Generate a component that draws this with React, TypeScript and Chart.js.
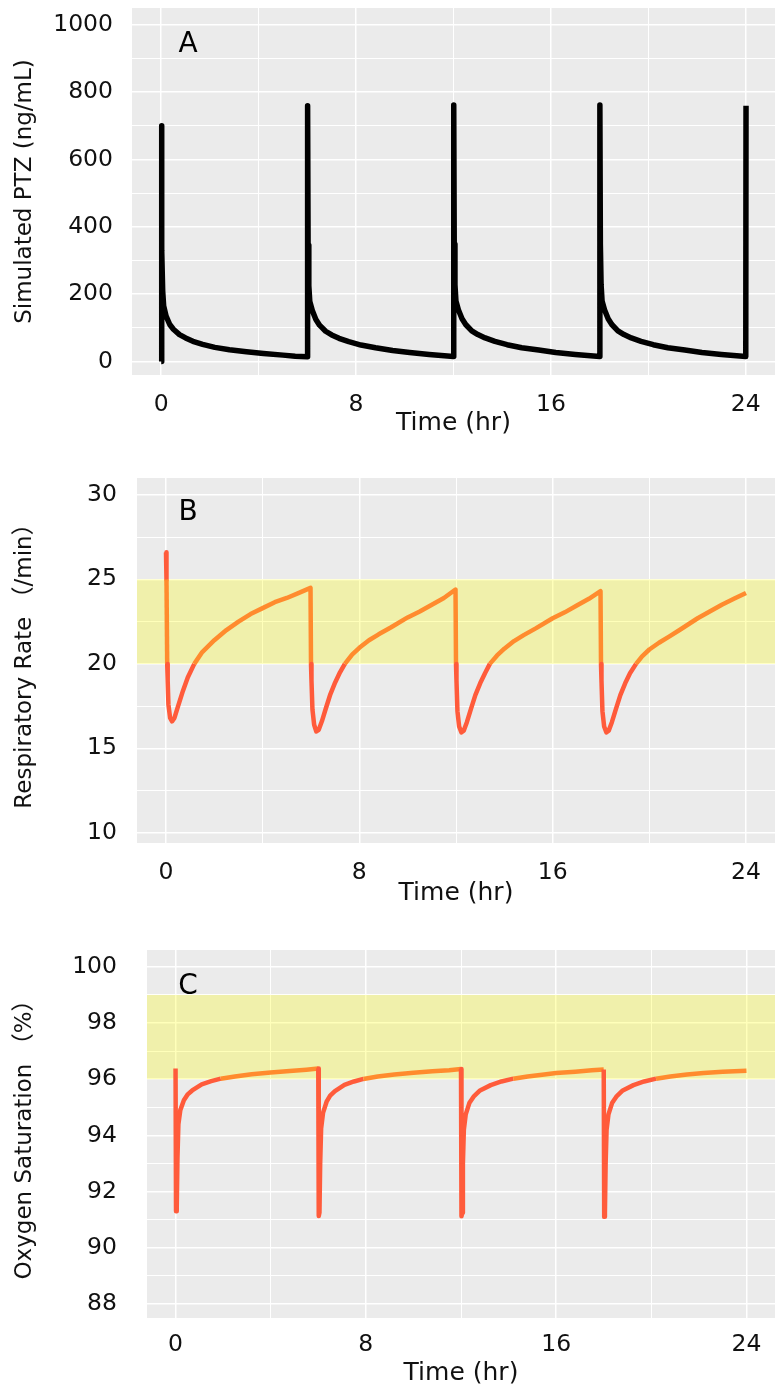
import React, { useEffect, useRef } from 'react';
import { Chart, registerables } from 'chart.js';

Chart.register(...registerables);

// ---------- Data ----------
// Panel A: simulated PTZ concentration (ng/mL)
const TIME_A = [
  0, 0.01, 0.03, 0.06, 0.1, 0.2, 0.35, 0.5, 0.75, 1.0, 1.3, 1.7, 2.2, 2.8, 3.5, 4.2, 5.0, 5.5, 6.0,
  6.01, 6.03, 6.06, 6.1, 6.2, 6.35, 6.5, 6.75, 7.0, 7.3, 7.7, 8.2, 8.8, 9.5, 10.2, 11.0, 11.5, 12.0,
  12.01, 12.03, 12.06, 12.1, 12.2, 12.35, 12.5, 12.75, 13.0, 13.3, 13.7, 14.2, 14.8, 15.5, 16.2, 17.0, 17.5, 18.0,
  18.01, 18.03, 18.06, 18.1, 18.2, 18.35, 18.5, 18.75, 19.0, 19.3, 19.7, 20.2, 20.8, 21.5, 22.2, 23.0, 23.5, 24.0,
  24.01,
];
const PTZ = [
  0, 700, 330, 210, 165, 135, 110, 96, 80, 70, 60, 51, 42, 35, 29, 24, 19, 16, 14,
  760, 345, 225, 178, 152, 125, 108, 90, 79, 69, 59, 49, 41, 33, 27, 21, 18, 15,
  762, 348, 228, 180, 154, 127, 110, 91, 80, 70, 60, 50, 41, 34, 27, 21, 18, 15,
  762, 348, 228, 180, 154, 127, 110, 91, 80, 70, 60, 50, 41, 34, 27, 21, 18, 15,
  760,
];

// Panel B: respiratory rate (/min)
const TIME_B = [
  0, 0.02, 0.04, 0.05, 0.07, 0.1, 0.17, 0.25, 0.35, 0.5, 0.7, 0.9, 1.17, 1.5, 2.0, 2.5, 3.0, 3.5, 4.0, 4.5, 5.0, 5.5, 5.98,
  6.0, 6.02, 6.06, 6.13, 6.22, 6.32, 6.45, 6.6, 6.8, 7.0, 7.2, 7.4, 7.7, 8.0, 8.4, 8.8, 9.3, 10.0, 10.5, 11.0, 11.5, 11.98,
  12.0, 12.02, 12.06, 12.13, 12.22, 12.32, 12.45, 12.6, 12.8, 13.0, 13.2, 13.4, 13.7, 14.0, 14.4, 14.8, 15.3, 16.0, 16.5, 17.0, 17.5, 17.98,
  18.0, 18.02, 18.06, 18.13, 18.22, 18.32, 18.45, 18.6, 18.8, 19.0, 19.2, 19.45, 19.7, 20.0, 20.4, 20.8, 21.3, 22.0, 22.5, 23.0, 23.5, 24.0,
];
const RR = [
  26.6, 25.0, 25.0, 20.0, 19.0, 17.6, 16.8, 16.6, 16.8, 17.5, 18.4, 19.2, 20.0, 20.7, 21.4, 22.0, 22.5, 22.95, 23.3, 23.65, 23.9, 24.2, 24.5,
  20.0, 19.0, 17.3, 16.4, 16.0, 16.1, 16.6, 17.3, 18.2, 18.9, 19.5, 20.0, 20.55, 20.95, 21.4, 21.75, 22.15, 22.75, 23.1, 23.5, 23.9, 24.4,
  20.0, 19.0, 17.2, 16.3, 15.95, 16.05, 16.55, 17.25, 18.15, 18.85, 19.45, 20.0, 20.5, 20.9, 21.35, 21.7, 22.1, 22.7, 23.05, 23.45, 23.85, 24.3,
  20.0, 19.0, 17.2, 16.3, 15.95, 16.05, 16.55, 17.25, 18.15, 18.85, 19.45, 20.0, 20.45, 20.85, 21.25, 21.6, 22.05, 22.7, 23.1, 23.5, 23.85, 24.2,
];

// Panel C: oxygen saturation (%)
const TIME_C = [
  0, 0.02, 0.05, 0.08, 0.12, 0.2, 0.35, 0.5, 0.7, 1.1, 1.5, 1.9, 2.5, 3.2, 4.0, 4.8, 5.5, 6.0,
  6.02, 6.05, 6.08, 6.12, 6.2, 6.35, 6.5, 6.7, 7.1, 7.5, 7.9, 8.5, 9.2, 10.0, 10.8, 11.5, 12.0,
  12.02, 12.05, 12.08, 12.12, 12.2, 12.35, 12.55, 12.8, 13.25, 13.7, 14.2, 14.8, 15.5, 16.0, 16.8, 17.5, 18.0,
  18.02, 18.05, 18.08, 18.12, 18.2, 18.35, 18.55, 18.8, 19.25, 19.7, 20.2, 20.8, 21.5, 22.2, 23.0, 24.0,
];
const SPO2 = [
  96.38, 91.3, 91.4, 93.2, 94.4, 94.9, 95.25, 95.45, 95.6, 95.82, 95.93, 96.02, 96.1, 96.18, 96.24, 96.29, 96.34, 96.38,
  91.13, 91.25, 93.0, 94.25, 94.8, 95.2, 95.42, 95.58, 95.8, 95.92, 96.01, 96.1, 96.17, 96.23, 96.28, 96.32, 96.36,
  91.12, 91.25, 93.0, 94.2, 94.75, 95.15, 95.4, 95.6, 95.79, 95.92, 96.02, 96.1, 96.17, 96.22, 96.27, 96.32, 96.35,
  91.1, 91.25, 93.0, 94.2, 94.75, 95.15, 95.4, 95.6, 95.79, 95.92, 96.02, 96.1, 96.17, 96.22, 96.27, 96.3,
];

// Reference ranges (yellow bands)
const RR_RANGE = [20, 25];
const SPO2_RANGE = [96, 99];

// Ticks / grid
const X_GRID = [0, 4, 8, 12, 16, 20, 24];
const X_LABELS = [0, 8, 16, 24];
const A_Y_GRID = [0, 100, 200, 300, 400, 500, 600, 700, 800, 900, 1000];
const A_Y_LABELS = [0, 200, 400, 600, 800, 1000];
const B_Y_GRID = [10, 12.5, 15, 17.5, 20, 22.5, 25, 27.5, 30];
const B_Y_LABELS = [10, 15, 20, 25, 30];
const C_Y_GRID = [88, 89, 90, 91, 92, 93, 94, 95, 96, 97, 98, 99, 100];
const C_Y_LABELS = [88, 90, 92, 94, 96, 98, 100];

// ---------- Styling ----------
const FONT = '"DejaVu Sans", "Noto Sans CJK JP", sans-serif';
const ORANGE = '#FF8B2E';
const RED = '#FF5B3B';
const PANEL_BG = '#EBEBEB';
const BAND = 'rgba(255,255,0,0.27)';
const TEXT = '#111111';

type PanelCfg = {
  label: string;
  top: number;
  height: number;
  plotLeft: number;
  plotTop: number;
  plotBottom: number;
  yMin: number;
  yMax: number;
  yGrid: number[];
  yLabels: number[];
  yTickPad: number;
  yTitle: string;
  xTickPad: number;
  xTitlePadBottom: number;
  labelX: number;
  labelY: number;
  times: number[];
  values: number[];
  range: number[] | null;
  lineWidth: number;
};

const PANELS: PanelCfg[] = [
  {
    label: 'A', top: 0, height: 450, plotLeft: 132, plotTop: 8, plotBottom: 375,
    yMin: -40, yMax: 1050, yGrid: A_Y_GRID, yLabels: A_Y_LABELS, yTickPad: 19,
    yTitle: 'Simulated PTZ (ng/mL)', xTickPad: 16, xTitlePadBottom: 12,
    labelX: 188, labelY: 51.5, times: TIME_A, values: PTZ, range: null, lineWidth: 5.5,
  },
  {
    label: 'B', top: 450, height: 470, plotLeft: 137, plotTop: 478, plotBottom: 843,
    yMin: 9.4, yMax: 31, yGrid: B_Y_GRID, yLabels: B_Y_LABELS, yTickPad: 20,
    yTitle: 'Respiratory Rate （/min）', xTickPad: 16, xTitlePadBottom: 12,
    labelX: 188, labelY: 70, times: TIME_B, values: RR, range: RR_RANGE, lineWidth: 4.5,
  },
  {
    label: 'C', top: 920, height: 470, plotLeft: 147, plotTop: 950, plotBottom: 1318,
    yMin: 87.5, yMax: 100.6, yGrid: C_Y_GRID, yLabels: C_Y_LABELS, yTickPad: 30,
    yTitle: 'Oxygen Saturation （%）', xTickPad: 13, xTitlePadBottom: 2,
    labelX: 188, labelY: 74, times: TIME_C, values: SPO2, range: SPO2_RANGE, lineWidth: 4.5,
  },
];

function Panel({ cfg }: { cfg: PanelCfg }) {
  const ref = useRef<HTMLCanvasElement>(null);

  useEffect(() => {
    const canvas = ref.current;
    if (!canvas) return;
    const range = cfg.range;
    const inRange = (v: number) => !range || (v >= range[0] - 1e-9 && v <= range[1] + 1e-9);

    const decor = {
      id: 'decor',
      beforeDraw(chart: any) {
        const { ctx, chartArea } = chart;
        ctx.save();
        ctx.fillStyle = PANEL_BG;
        ctx.fillRect(chartArea.left, chartArea.top, chartArea.right - chartArea.left, chartArea.bottom - chartArea.top);
        ctx.restore();
      },
      beforeDatasetsDraw(chart: any) {
        if (!range) return;
        const { ctx, chartArea, scales } = chart;
        const yTop = scales.y.getPixelForValue(range[1]);
        const yBot = scales.y.getPixelForValue(range[0]);
        ctx.save();
        ctx.fillStyle = BAND;
        ctx.fillRect(chartArea.left, yTop, chartArea.right - chartArea.left, yBot - yTop);
        ctx.restore();
      },
      afterDraw(chart: any) {
        const { ctx } = chart;
        ctx.save();
        ctx.fillStyle = '#000';
        ctx.font = `28px ${FONT}`;
        ctx.textAlign = 'center';
        ctx.textBaseline = 'alphabetic';
        ctx.fillText(cfg.label, cfg.labelX, cfg.labelY);
        ctx.restore();
      },
    };

    const points = cfg.times.map((t, i) => ({ x: t, y: cfg.values[i] }));
    const padTop = cfg.plotTop - cfg.top;
    const xAxisHeight = cfg.top + cfg.height - cfg.plotBottom;

    const chart = new Chart(canvas, {
      type: 'line',
      data: {
        datasets: [
          {
            data: points,
            borderColor: range ? ORANGE : '#000',
            borderWidth: cfg.lineWidth,
            pointRadius: 0,
            tension: 0,
            fill: false,
            borderJoinStyle: 'round',
            segment: range
              ? {
                  borderColor: (c: any) =>
                    inRange(c.p0.parsed.y) && inRange(c.p1.parsed.y) ? ORANGE : RED,
                }
              : undefined,
          } as any,
        ],
      },
      options: {
        responsive: false,
        animation: false,
        devicePixelRatio: 1,
        layout: { padding: { top: padTop, left: 0, right: 0, bottom: 0 } },
        plugins: { legend: { display: false }, tooltip: { enabled: false } },
        scales: {
          x: {
            type: 'linear',
            min: -1.2,
            max: 25.2,
            afterBuildTicks: (s: any) => {
              s.ticks = X_GRID.map((v) => ({ value: v }));
            },
            afterFit: (s: any) => {
              s.height = xAxisHeight;
              s.paddingLeft = 0;
              s.paddingRight = 0;
            },
            grid: {
              color: '#FFFFFF',
              drawTicks: false,
              lineWidth: (c: any) => (c.tick && X_LABELS.includes(c.tick.value) ? 1.5 : 1),
            },
            border: { display: false },
            ticks: {
              autoSkip: false,
              maxRotation: 0,
              padding: cfg.xTickPad,
              color: TEXT,
              font: { family: FONT, size: 23.5 },
              callback: (v: any) => (X_LABELS.includes(Number(v)) ? String(v) : ''),
            },
            title: {
              display: true,
              text: 'Time (hr)',
              color: TEXT,
              font: { family: FONT, size: 25 },
              padding: { top: 0, bottom: cfg.xTitlePadBottom },
            },
          },
          y: {
            type: 'linear',
            min: cfg.yMin,
            max: cfg.yMax,
            afterBuildTicks: (s: any) => {
              s.ticks = cfg.yGrid.map((v) => ({ value: v }));
            },
            afterFit: (s: any) => {
              s.width = cfg.plotLeft;
              s.paddingTop = 0;
              s.paddingBottom = 0;
            },
            grid: {
              color: '#FFFFFF',
              drawTicks: false,
              lineWidth: (c: any) => (c.tick && cfg.yLabels.includes(c.tick.value) ? 1.5 : 1),
            },
            border: { display: false },
            ticks: {
              autoSkip: false,
              padding: cfg.yTickPad,
              color: TEXT,
              font: { family: FONT, size: 23.5 },
              callback: (v: any) => (cfg.yLabels.includes(Number(v)) ? String(v) : ''),
            },
            title: {
              display: true,
              text: cfg.yTitle,
              color: TEXT,
              font: { family: FONT, size: 23 },
              padding: { top: 11, bottom: 0 },
            },
          },
        },
      },
      plugins: [decor],
    } as any);

    return () => chart.destroy();
  }, [cfg]);

  return (
    <canvas
      ref={ref}
      width={775}
      height={cfg.height}
      style={{ position: 'absolute', left: 0, top: cfg.top, width: 775, height: cfg.height }}
    />
  );
}

export default function App() {
  return (
    <div
      style={{
        position: 'absolute',
        left: 0,
        top: 0,
        width: 775,
        height: 1390,
        overflow: 'hidden',
        background: '#FFFFFF',
      }}
    >
      {PANELS.map((p) => (
        <Panel key={p.label} cfg={p} />
      ))}
    </div>
  );
}
